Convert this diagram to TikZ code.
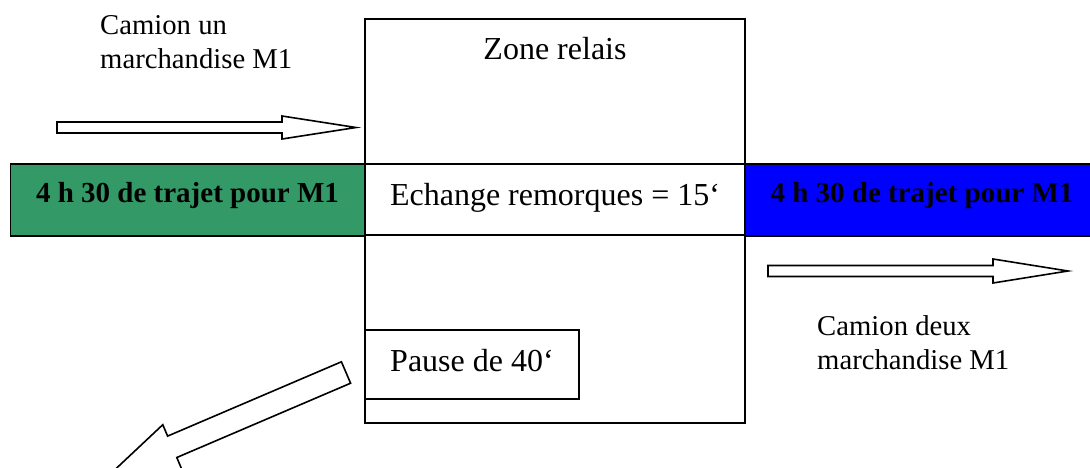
\documentclass[tikz,border=0pt]{standalone}
\usepackage{fontspec}
\setmainfont{Liberation Serif}
\definecolor{seagreen}{RGB}{51,153,102}
\definecolor{pureblue}{RGB}{0,0,255}
\begin{document}
\begin{tikzpicture}[x=1pt,y=-1pt,
  frame/.style={draw=black,line width=1.8pt,rectangle,inner sep=0pt,outer sep=0pt},
  regtext/.style={font=\fontsize{32}{38}\selectfont},
  trajet/.style={frame,minimum width=354pt,minimum height=72pt,
    font=\bfseries\fontsize{29}{34}\selectfont,text height=15pt,text depth=10pt},
  lbl/.style={inner sep=0pt,font=\fontsize{28.7}{34}\selectfont,anchor=base west},
  blockarrow/.style={draw=black,line width=1.6pt,fill=white,line join=miter}]
\path[use as bounding box] (0,0) rectangle (1090,467);
\clip (0,0) rectangle (1090,467);

% zone relais
\node[frame,minimum width=380pt,minimum height=404pt] (zone) at (555,221) {};
\node[regtext,inner sep=0pt,anchor=base] (title) at (555,59) {Zone relais};

% middle band
\node[frame,regtext,minimum width=380pt,minimum height=71pt,text height=19pt,text depth=8pt]
  (echange) at (555,199.5) {Echange remorques = 15‘};
\node[trajet,fill=seagreen] (green) at (187.5,200) {4 h 30 de trajet pour M1};
\node[trajet,fill=pureblue] (blue) at (922,200) {4 h 30 de trajet pour M1};

% pause
\node[frame,regtext,minimum width=214pt,minimum height=69pt,text height=21pt,text depth=8pt]
  (pause) at (472,364.5) {Pause de 40‘};

% labels
\node[lbl] (c1a) at (100,34.5) {Camion un};
\node[lbl] (c1b) at (100,68.3) {marchandise M1};
\node[lbl] (c2a) at (817,335) {Camion deux};
\node[lbl] (c2b) at (817,369.3) {marchandise M1};

% block arrows
\draw[blockarrow] (57,122) -- (282,122) -- (282,116) -- (356,127.5) -- (282,139)
  -- (282,133) -- (57,133) -- cycle;
\draw[blockarrow] (768,265.5) -- (993,265.5) -- (993,259) -- (1068,271) -- (993,283)
  -- (993,276.5) -- (768,276.5) -- cycle;
\draw[blockarrow] (341.4,361.8) -- (167.6,436.1) -- (162.8,424.7) -- (111.6,472.8)
  -- (181.6,468.9) -- (176.8,457.5) -- (350.6,383.2) -- cycle;
\end{tikzpicture}
\end{document}
